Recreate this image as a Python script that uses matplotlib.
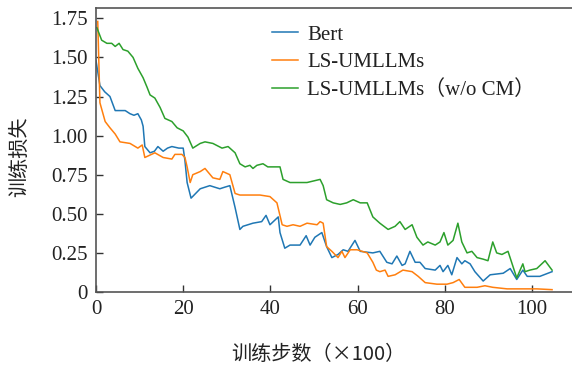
import matplotlib
matplotlib.use("Agg")
import matplotlib.pyplot as plt

series_names = ["Bert", "LS-UMLLMs", "LS-UMLLMs（w/o CM）"]
colors = ["#1f77b4", "#ff7f0e", "#2ca02c"]

bert_x = [0, 0.9, 2.0, 3.2, 4.4, 5.5, 6.7, 7.8, 8.7, 9.6, 10.4, 10.8, 11.2, 12.4, 13.4, 14.2, 15.4, 16.4,
          17.4, 19.0, 20.0, 20.4, 20.9, 21.8, 23.9, 26.1, 28.4, 29.5, 30.7, 31.9, 33.0, 33.7, 36.0, 38.0,
          39.0, 39.9, 41.8, 42.2, 43.3, 44.5, 46.8, 48.2, 49.1, 50.2, 51.8, 52.9, 54.1, 55.5, 56.7, 57.8,
          59.4, 60.6, 63.5, 65.1, 66.7, 67.9, 69.0, 70.2, 70.9, 72.0, 73.2, 74.3, 75.5, 77.8, 78.9, 79.6,
          80.7, 81.6, 82.8, 83.9, 84.6, 85.8, 86.9, 88.8, 90.4, 93.4, 95.0, 96.5, 97.9, 98.9, 101.8, 104.6]
bert_y = [1.48, 1.32, 1.28, 1.25, 1.16, 1.16, 1.16, 1.14, 1.13, 1.14, 1.10, 1.06, 0.93, 0.89, 0.90, 0.93,
          0.90, 0.92, 0.93, 0.92, 0.92, 0.84, 0.70, 0.60, 0.66, 0.68, 0.66, 0.67, 0.68, 0.54, 0.40, 0.42,
          0.44, 0.45, 0.49, 0.43, 0.48, 0.38, 0.28, 0.30, 0.30, 0.36, 0.30, 0.35, 0.38, 0.29, 0.22, 0.24,
          0.27, 0.26, 0.33, 0.26, 0.25, 0.26, 0.19, 0.18, 0.23, 0.17, 0.18, 0.26, 0.19, 0.19, 0.15, 0.14,
          0.17, 0.13, 0.17, 0.11, 0.22, 0.18, 0.20, 0.18, 0.13, 0.07, 0.11, 0.12, 0.15, 0.08, 0.14, 0.10,
          0.10, 0.13]

ls_x = [0.4, 0.9, 2.1, 3.2, 4.4, 5.5, 7.8, 9.6, 10.6, 11.2, 13.5, 15.4, 17.4, 18.1, 19.7, 20.4, 20.9, 21.6,
        22.2, 23.9, 25.0, 26.8, 28.4, 29.1, 30.7, 31.9, 33.0, 35.3, 37.6, 39.9, 41.5, 42.7, 43.8, 45.2,
        46.8, 48.4, 50.7, 51.4, 52.1, 52.9, 54.1, 55.5, 56.4, 57.1, 58.3, 59.9, 62.2, 63.5, 64.3, 65.1,
        66.3, 67.0, 68.6, 70.4, 72.5, 73.9, 75.5, 78.2, 80.5, 81.9, 83.3, 84.6, 87.4, 89.2, 91.0, 94.3,
        97.2, 101.1, 104.6]
ls_y = [1.73, 1.21, 1.09, 1.05, 1.01, 0.96, 0.95, 0.92, 0.94, 0.86, 0.89, 0.86, 0.85, 0.88, 0.88, 0.86,
        0.80, 0.70, 0.75, 0.77, 0.79, 0.73, 0.72, 0.77, 0.75, 0.63, 0.62, 0.62, 0.62, 0.61, 0.57, 0.43,
        0.42, 0.43, 0.42, 0.44, 0.43, 0.45, 0.44, 0.29, 0.26, 0.22, 0.26, 0.22, 0.27, 0.27, 0.25, 0.19,
        0.14, 0.13, 0.14, 0.10, 0.11, 0.14, 0.13, 0.10, 0.06, 0.05, 0.05, 0.06, 0.08, 0.03, 0.03, 0.04,
        0.03, 0.02, 0.02, 0.02, 0.015]

wo_x = [0.2, 1.3, 2.5, 3.6, 4.4, 5.3, 6.2, 7.3, 8.5, 9.6, 10.8, 11.7, 12.4, 13.5, 14.7, 15.8, 17.4, 18.6,
        20.0, 21.1, 22.2, 23.9, 25.0, 26.8, 28.9, 30.3, 31.9, 33.0, 34.2, 35.3, 36.0, 36.9, 38.3, 39.4,
        42.2, 42.9, 44.5, 48.4, 51.4, 52.1, 52.9, 54.4, 56.0, 57.5, 59.0, 60.6, 62.2, 63.5, 65.1, 67.0,
        68.6, 69.7, 70.9, 72.5, 73.6, 75.0, 76.1, 77.8, 78.9, 79.8, 80.7, 81.9, 83.0, 83.9, 85.1, 86.2,
        87.4, 88.8, 89.9, 91.0, 91.9, 93.1, 94.5, 96.5, 97.9, 98.4, 99.5, 101.1, 103.0, 104.6]
wo_y = [1.69, 1.61, 1.59, 1.59, 1.57, 1.59, 1.55, 1.54, 1.50, 1.43, 1.37, 1.31, 1.26, 1.24, 1.18, 1.11,
        1.09, 1.05, 1.03, 0.99, 0.92, 0.95, 0.96, 0.95, 0.92, 0.93, 0.89, 0.82, 0.80, 0.81, 0.79, 0.81,
        0.82, 0.80, 0.80, 0.72, 0.70, 0.70, 0.72, 0.68, 0.59, 0.57, 0.56, 0.57, 0.59, 0.57, 0.57, 0.48,
        0.44, 0.40, 0.42, 0.45, 0.40, 0.43, 0.35, 0.30, 0.32, 0.30, 0.32, 0.38, 0.30, 0.33, 0.44, 0.32,
        0.25, 0.26, 0.22, 0.21, 0.20, 0.32, 0.25, 0.24, 0.26, 0.09, 0.18, 0.13, 0.14, 0.15, 0.20, 0.14]

x_ticks = [0, 20, 40, 60, 80, 100]
y_ticks = [0, 0.25, 0.5, 0.75, 1.0, 1.25, 1.5, 1.75]
y_tick_labels = ["0", "0.25", "0.50", "0.75", "1.00", "1.25", "1.50", "1.75"]
x_label = "训练步数（×100）"
y_label = "训练损失"

fam = ["Liberation Serif", "Noto Sans CJK SC", "DejaVu Sans"]
plt.rcParams["font.family"] = fam

fig = plt.figure(figsize=(5.72, 3.72), dpi=100)
W, H = 572, 372
ax = fig.add_axes([96 / W, (H - 292) / H, (W - 96) / W, (292 - 8) / H])

for xs, ys, name, c in zip([bert_x, ls_x, wo_x], [bert_y, ls_y, wo_y], series_names, colors):
    ax.plot(xs, ys, color=c, lw=1.1, label=name)

ax.set_xlim(0, (W - 96) / 4.36)
ax.set_ylim(0, (292 - 8) / 156.4)
ax.set_xticks(x_ticks)
ax.set_xticklabels([str(v) for v in x_ticks])
ax.set_yticks(y_ticks)
ax.set_yticklabels(y_tick_labels)
ax.tick_params(direction="in", length=5, width=1.0, color="#333333",
               labelsize=15, labelcolor="#222222", pad=6)
for s in ["left", "bottom", "top"]:
    ax.spines[s].set_color("#555555")
    ax.spines[s].set_linewidth(1.2)
ax.spines["right"].set_visible(False)

fig.text(318 / W, 1 - 355 / H, x_label, ha="center", va="center", fontsize=14.5,
         color="#222222", family=["Noto Sans CJK SC", "DejaVu Sans"])
fig.text(20 / W, 1 - 157 / H, y_label, ha="center", va="center", fontsize=14.5,
         rotation=90, color="#222222", family=["Noto Sans CJK SC"])

leg = ax.legend(loc="upper left", bbox_to_anchor=((272 - 96) / 476, (292 - 25) / 284),
                frameon=False, fontsize=15, borderpad=0, borderaxespad=0,
                handlelength=1.25, handletextpad=0.45, labelspacing=0.38)
for t in leg.get_texts():
    t.set_color("#222222")

fig.savefig("out.png", dpi=100)
